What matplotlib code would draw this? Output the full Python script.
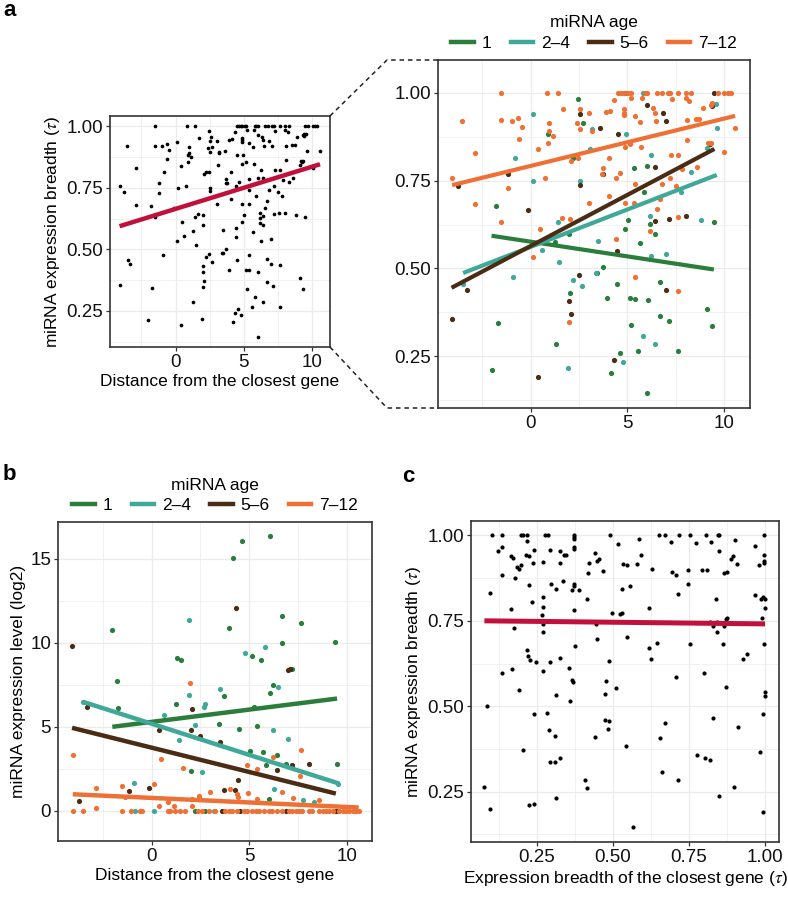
import numpy as np
import matplotlib
matplotlib.use("Agg")
import matplotlib.pyplot as plt
from matplotlib.lines import Line2D

plt.rcParams.update({
    "font.family": ["Liberation Sans", "DejaVu Sans"],
    "mathtext.fontset": "stix",
    "font.size": 12,
})

GREEN, TEAL, BROWN, ORANGE = "#2a7d3b", "#3fa898", "#4a2c14", "#ee7034"
RED = "#c2103c"
GRID, EDGE = "#ebebeb", "#333333"
AGE_LABELS = ["1", "2–4", "5–6", "7–12"]
AGE_COLORS = [GREEN, TEAL, BROWN, ORANGE]

# ---- panel a: distance vs expression breadth (tau), by miRNA age ----
A_AGE1 = [(2.45, 0.983), (2.69, 0.915), (0.88, 0.882), (2.19, 0.813), (-1.78, 0.677),
          (1.98, 0.597), (1.24, 0.576), (-1.71, 0.344), (-2.03, 0.211), (1.31, 0.285),
          (2.02, 0.431), (4.88, 1.0), (5.36, 0.786), (6.00, 0.791), (5.86, 0.717),
          (5.02, 0.638), (4.88, 0.612), (6.17, 0.627), (6.40, 0.597), (5.66, 0.572),
          (9.47, 0.631), (3.71, 0.503), (3.45, 0.487), (4.47, 0.457), (3.93, 0.416),
          (5.14, 0.416), (5.40, 0.414), (6.05, 0.409), (6.66, 0.462), (6.66, 0.366),
          (7.16, 0.350), (5.19, 0.338), (9.10, 0.385), (9.36, 0.337), (5.57, 0.264),
          (4.59, 0.259), (4.17, 0.203), (7.64, 0.264), (6.03, 0.145)]
A_AGE2 = [(0.10, 0.938), (3.19, 0.896), (3.07, 0.841), (-0.83, 0.815), (0.14, 0.750),
          (2.55, 0.748), (1.43, 0.633), (0.60, 0.553), (1.48, 0.518), (-0.90, 0.477),
          (2.19, 0.468), (2.64, 0.450), (1.90, 0.217), (-3.50, 0.455), (3.36, 0.487),
          (4.91, 0.883), (6.22, 0.822), (6.17, 0.649), (6.22, 0.535), (6.98, 0.541),
          (7.76, 0.717), (8.28, 0.775), (8.81, 0.638), (9.10, 0.843), (9.62, 0.900),
          (9.57, 0.969), (5.78, 0.307), (6.43, 0.285), (4.79, 0.234), (3.50, 0.578),
          (5.78, 1.0)]
A_AGE3 = [(-3.76, 0.734), (-1.19, 0.769), (-0.14, 0.666), (2.55, 0.737), (2.52, 0.940),
          (2.47, 0.481), (1.98, 0.406), (2.07, 0.371), (-3.31, 0.439), (-4.10, 0.357),
          (0.36, 0.191), (3.60, 0.900), (4.50, 0.883), (6.00, 0.965), (6.83, 0.941),
          (7.02, 0.919), (3.74, 0.769), (6.40, 0.788), (6.40, 0.634), (7.17, 0.642),
          (8.03, 0.648), (4.45, 0.549), (6.98, 0.440), (4.33, 0.240), (9.28, 0.855),
          (9.40, 0.962), (9.50, 1.0)]
A_AGE4 = [(-1.52, 1.0), (0.86, 1.0), (1.40, 1.0), (-3.57, 0.919), (-1.53, 0.921),
          (-0.98, 0.919), (-0.66, 0.929), (-0.45, 0.903), (-0.62, 0.867), (-2.88, 0.829),
          (0.95, 0.915), (0.95, 0.891), (1.16, 0.877), (0.88, 0.856), (0.38, 0.840),
          (1.69, 0.954), (2.57, 0.955), (3.02, 0.941), (2.40, 0.913), (2.55, 0.896),
          (3.16, 0.891), (2.45, 0.815), (2.07, 0.805), (-4.07, 0.758), (0.76, 0.757),
          (-1.19, 0.729), (-2.88, 0.682), (3.00, 0.685), (-1.53, 0.631), (0.47, 0.611),
          (1.64, 0.644), (2.02, 0.640), (0.09, 0.532), (1.98, 0.347),
          (4.50, 1.0), (4.67, 1.0), (4.80, 1.0), (5.05, 1.0), (5.17, 1.0), (5.91, 1.0),
          (6.00, 1.0), (6.55, 1.0), (6.78, 1.0), (7.09, 1.0), (7.21, 1.0), (7.64, 1.0),
          (8.03, 1.0), (8.29, 1.0), (9.67, 1.0), (10.02, 1.0), (10.19, 1.0), (10.36, 1.0),
          (4.33, 0.978), (5.19, 0.986), (5.74, 0.986), (3.90, 0.946), (4.10, 0.948),
          (4.84, 0.953), (4.84, 0.943), (4.84, 0.936), (5.40, 0.934), (5.66, 0.917),
          (6.34, 0.957), (6.43, 0.943), (6.47, 0.919), (7.29, 0.981), (8.03, 0.984),
          (8.19, 0.976), (8.07, 0.921), (8.53, 0.924), (8.71, 0.924), (8.90, 0.957),
          (9.33, 0.965), (9.40, 0.970), (10.57, 0.900), (9.19, 0.858), (9.31, 0.858),
          (10.02, 0.831), (4.88, 0.845), (5.14, 0.853), (5.71, 0.845), (4.07, 0.815),
          (3.72, 0.786), (3.67, 0.769), (4.41, 0.758), (4.62, 0.772), (7.26, 0.824),
          (7.64, 0.822), (8.10, 0.864), (7.84, 0.782), (8.59, 0.788), (5.40, 0.741),
          (6.81, 0.741), (7.21, 0.758), (6.69, 0.698), (6.52, 0.670), (7.52, 0.734),
          (4.07, 0.706), (4.88, 0.685), (5.36, 0.685), (6.17, 0.606), (4.40, 0.585),
          (7.60, 0.646), (5.40, 0.476), (7.64, 0.435)]
# fitted lines: (x_start, x_end), (y_start, y_end)
A_FIT_X = [(-2.03, 9.47), (-3.50, 9.62), (-4.10, 9.50), (-4.07, 10.57)]
A_FIT_Y = [(0.593, 0.497), (0.487, 0.766), (0.445, 0.840), (0.737, 0.934)]
A_ALL_FIT_X = (-4.10, 10.57)
A_ALL_FIT_Y = (0.594, 0.846)

# ---- panel b: distance vs expression level (log2), by miRNA age ----
B_AGE1 = [(-2.01, 10.78), (3.95, 10.86), (6.67, 11.57), (7.67, 11.18), (6.67, 10.01),
          (9.38, 10.07), (1.32, 9.10), (1.49, 8.96), (5.16, 9.20), (5.59, 8.96),
          (-1.77, 7.75), (7.17, 8.43), (6.19, 7.48), (6.07, 7.02), (3.72, 6.84),
          (-1.70, 6.11), (1.27, 6.35), (5.23, 6.19), (3.45, 5.16), (4.48, 4.86),
          (5.40, 5.02), (5.06, 3.57), (5.68, 3.51), (6.43, 3.32), (4.63, 16.03),
          (6.06, 16.33), (4.19, 15.04), (2.01, 2.36), (6.00, 0.73), (6.86, 2.81),
          (9.49, 2.81), (2.20, 0.0), (2.71, 0.0), (5.85, 2.72)]
B_AGE2 = [(1.92, 11.38), (5.81, 9.73), (4.80, 9.40), (6.45, 7.34), (1.90, 6.92),
          (3.52, 7.22), (2.66, 6.19), (2.73, 6.35), (0.62, 5.69), (2.20, 5.10),
          (1.42, 4.21), (6.21, 4.84), (7.00, 4.27), (-3.52, 6.49), (2.57, 2.32),
          (-0.89, 1.66), (6.26, 1.33), (7.77, 0.67), (8.32, 0.53), (-0.86, 0.0),
          (0.14, 0.0), (3.17, 0.0), (9.55, 1.60)]
B_AGE3 = [(-4.07, 9.79), (4.34, 12.09), (7.00, 8.37), (7.08, 8.41), (2.09, 6.03),
          (2.01, 4.84), (0.36, 4.84), (2.47, 4.47), (3.52, 4.07), (-3.31, 6.19),
          (-1.17, 1.21), (-0.12, 1.39), (-3.74, 0.59), (3.69, 1.27), (4.29, 1.23),
          (4.44, 1.86), (6.43, 2.42), (7.20, 2.71), (8.06, 2.77), (3.60, 0.0),
          (4.55, 0.0), (6.86, 0.0), (9.43, 0.0)]
B_AGE4 = [(1.97, 7.59), (7.65, 3.65), (6.21, 3.18), (-4.03, 3.34), (0.48, 3.08),
          (1.63, 2.55), (-2.83, 1.39), (-1.49, 1.49), (0.10, 1.58), (-1.34, 0.83),
          (0.86, 0.53), (3.00, 1.13), (4.03, 1.33), (4.36, 1.03), (4.43, 0.83),
          (4.89, 2.75), (5.40, 2.51), (2.45, 0.89), (2.06, 0.73), (4.94, 1.07),
          (5.40, 0.73), (6.69, 1.13), (7.24, 0.77), (8.58, 0.67), (7.57, 2.09),
          (0.38, 0.30), (2.06, 0.30), (-2.86, 0.20), (1.15, 0.30),
          (-4.03, 0.0), (-3.52, 0.0), (-1.54, 0.0), (-1.03, 0.0), (-0.60, 0.0),
          (-0.48, 0.0), (0.86, 0.0), (0.94, 0.0), (1.20, 0.0), (1.46, 0.0), (1.72, 0.0),
          (2.40, 0.0), (2.57, 0.0), (2.95, 0.0), (3.26, 0.0), (3.77, 0.0), (3.95, 0.0),
          (4.12, 0.0), (4.37, 0.0), (4.72, 0.0), (4.89, 0.0), (5.15, 0.0), (5.32, 0.0),
          (5.52, 0.0), (5.75, 0.0), (6.00, 0.0), (6.17, 0.0), (6.43, 0.0), (6.69, 0.0),
          (7.03, 0.0), (7.20, 0.0), (7.38, 0.0), (7.55, 0.0), (7.72, 0.0), (8.06, 0.0),
          (8.23, 0.0), (8.58, 0.0), (8.75, 0.0), (8.92, 0.0), (9.09, 0.0), (9.26, 0.0),
          (9.61, 0.0), (9.78, 0.0), (9.95, 0.0), (10.12, 0.0), (10.29, 0.0), (10.46, 0.0),
          (10.60, 0.0)]
B_FIT_X = [(-2.01, 9.49), (-3.52, 9.61), (-4.07, 9.43), (-4.03, 10.60)]
B_FIT_Y = [(5.00, 6.68), (6.49, 1.62), (4.94, 1.03), (0.99, 0.20)]

# ---- panel c: breadth of closest gene vs miRNA breadth ----
C_POINTS = [(0.103, 1.0), (0.137, 1.0), (0.198, 1.0), (0.204, 1.0), (0.217, 1.0),
            (0.219, 0.983), (0.277, 1.0), (0.286, 1.0), (0.371, 1.0), (0.371, 0.994),
            (0.371, 0.988), (0.371, 0.966), (0.371, 0.961), (0.491, 1.0), (0.123, 0.955),
            (0.136, 0.965), (0.167, 0.939), (0.173, 0.934), (0.186, 0.907), (0.193, 0.902),
            (0.197, 0.914), (0.214, 0.942), (0.225, 0.939), (0.241, 0.958), (0.238, 0.919),
            (0.270, 0.922), (0.294, 0.958), (0.327, 0.954), (0.338, 0.944), (0.345, 0.944),
            (0.327, 0.920), (0.137, 0.883), (0.179, 0.876), (0.096, 0.832), (0.226, 0.856),
            (0.233, 0.805), (0.296, 0.857), (0.314, 0.842), (0.336, 0.866), (0.371, 0.859),
            (0.373, 0.852), (0.365, 0.839), (0.390, 0.839), (0.414, 0.813), (0.418, 0.891),
            (0.423, 0.920), (0.440, 0.948), (0.447, 0.925), (0.453, 0.930), (0.467, 0.895),
            (0.516, 0.976), (0.533, 0.917), (0.546, 0.914), (0.530, 0.844), (0.557, 0.851),
            (0.270, 0.820), (0.270, 0.790), (0.266, 0.768), (0.164, 0.786), (0.371, 0.782),
            (0.498, 0.774), (0.524, 0.769), (0.530, 0.774), (0.175, 0.729), (0.272, 0.740),
            (0.270, 0.716), (0.444, 0.740), (0.447, 0.697), (0.546, 0.703), (0.376, 0.677),
            (0.219, 0.666), (0.220, 0.646), (0.228, 0.634), (0.247, 0.629), (0.294, 0.630),
            (0.325, 0.640), (0.269, 0.604), (0.357, 0.612), (0.365, 0.576), (0.368, 0.571),
            (0.135, 0.596), (0.168, 0.610), (0.486, 0.633), (0.478, 0.575), (0.510, 0.553),
            (0.474, 0.535), (0.193, 0.547), (0.312, 0.532), (0.360, 0.516), (0.086, 0.502),
            (0.241, 0.477), (0.283, 0.480), (0.291, 0.430), (0.311, 0.413), (0.474, 0.461),
            (0.488, 0.456), (0.483, 0.434), (0.440, 0.409), (0.544, 0.383), (0.206, 0.371),
            (0.292, 0.336), (0.311, 0.338), (0.325, 0.350), (0.407, 0.285), (0.414, 0.260),
            (0.078, 0.263), (0.314, 0.233), (0.224, 0.211), (0.241, 0.215), (0.096, 0.200),
            (0.587, 0.989), (0.652, 1.0), (0.671, 1.0), (0.690, 0.980), (0.718, 1.0),
            (0.753, 1.0), (0.773, 0.979), (0.806, 1.0), (0.822, 0.981), (0.844, 1.0),
            (0.850, 1.0), (0.903, 0.985), (0.997, 1.0), (0.968, 0.968), (0.594, 0.943),
            (0.578, 0.917), (0.629, 0.903), (0.695, 0.893), (0.709, 0.883), (0.746, 0.900),
            (0.794, 0.900), (0.811, 0.899), (0.849, 0.954), (0.866, 0.891), (0.874, 0.894),
            (0.888, 0.930), (0.896, 0.940), (0.907, 0.917), (0.979, 0.914), (0.996, 0.942),
            (0.998, 0.925), (0.998, 0.920), (0.746, 0.858), (0.713, 0.829), (0.620, 0.788),
            (0.839, 0.813), (0.968, 0.825), (0.986, 0.813), (0.995, 0.820), (1.0, 0.813),
            (1.0, 0.787), (0.819, 0.747), (0.830, 0.734), (0.841, 0.747), (0.843, 0.717),
            (0.865, 0.734), (0.872, 0.754), (0.876, 0.757), (0.990, 0.757), (0.618, 0.670),
            (0.624, 0.639), (0.646, 0.685), (0.755, 0.681), (0.861, 0.683), (0.927, 0.639),
            (0.942, 0.654), (0.997, 0.683), (0.707, 0.586), (0.800, 0.597), (0.872, 0.556),
            (0.999, 0.542), (0.999, 0.531), (0.995, 0.476), (0.672, 0.451), (0.655, 0.406),
            (0.828, 0.467), (0.910, 0.439), (0.775, 0.357), (0.804, 0.349), (0.819, 0.344),
            (0.984, 0.365), (0.663, 0.307), (0.714, 0.284), (0.898, 0.265), (0.850, 0.239),
            (0.993, 0.191), (0.565, 0.146)]
C_FIT_X = (0.078, 1.0)
C_FIT_Y = (0.750, 0.741)

TAU_TICKS = [0.25, 0.50, 0.75, 1.00]
TAU_LABELS = ["0.25", "0.50", "0.75", "1.00"]
DIST_TICKS = [0, 5, 10]


def style(ax, xlim, ylim, xmaj, xmin, ymaj, ymin):
    ax.set_xlim(*xlim)
    ax.set_ylim(*ylim)
    ax.set_xticks(xmaj)
    ax.set_xticks(xmin, minor=True)
    ax.set_yticks(ymaj)
    ax.set_yticks(ymin, minor=True)
    ax.grid(which="major", color=GRID, lw=0.9)
    ax.grid(which="minor", color=GRID, lw=0.5)
    ax.set_axisbelow(True)
    ax.tick_params(which="minor", length=0)
    ax.tick_params(which="major", length=3, width=0.9, color=EDGE, labelsize=13.5,
                   labelcolor="#111111", pad=2)
    for s in ax.spines.values():
        s.set_color(EDGE)
        s.set_linewidth(1.2)


def age_legend(ax):
    handles = [Line2D([], [], color=c, lw=3.2) for c in AGE_COLORS]
    ax.legend(handles, AGE_LABELS, title="miRNA age", ncol=4, loc="lower center",
              bbox_to_anchor=(0.5, 1.012), frameon=False, handlelength=1.3,
              columnspacing=1.1, handletextpad=0.45, fontsize=12.5, title_fontsize=12.5,
              borderaxespad=0.2, borderpad=0.1, labelspacing=0.3)


W, H = 788, 897
fig = plt.figure(figsize=(W / 100, H / 100), dpi=100)
POS_AL = [110 / W, 1 - 347 / H, 220 / W, 231 / H]
POS_AR = [438 / W, 1 - 408 / H, 312 / W, 348 / H]
POS_B = [58 / W, 1 - 841 / H, 314 / W, 319 / H]
POS_C = [471 / W, 1 - 842 / H, 308 / W, 321 / H]

a_groups = [np.array(g) for g in (A_AGE1, A_AGE2, A_AGE3, A_AGE4)]
a_all = np.vstack(a_groups)

# a, left: all miRNAs
ax = fig.add_axes(POS_AL)
style(ax, (-4.8, 11.3), (0.103, 1.042), DIST_TICKS, [-2.5, 2.5, 7.5],
      TAU_TICKS, [0.125, 0.375, 0.625, 0.875])
ax.set_yticklabels(TAU_LABELS)
ax.scatter(a_all[:, 0], a_all[:, 1], s=7, color="black", lw=0, zorder=2)
ax.plot(A_ALL_FIT_X, A_ALL_FIT_Y, color=RED, lw=3.2, solid_capstyle="butt", zorder=3)
ax.set_xlabel("Distance from the closest gene", fontsize=12.5, labelpad=2)
ax.set_ylabel(r"miRNA expression breadth ($\tau$)", fontsize=12.5, labelpad=3)

# a, right: split by miRNA age
ax = fig.add_axes(POS_AR)
style(ax, (-4.8, 11.34), (0.103, 1.093), DIST_TICKS, [-2.5, 2.5, 7.5],
      TAU_TICKS, [0.125, 0.375, 0.625, 0.875])
ax.set_yticklabels(TAU_LABELS)
for g, c in zip(a_groups, AGE_COLORS):
    ax.scatter(g[:, 0], g[:, 1], s=14, color=c, lw=0, zorder=2)
for fx, fy, c in zip(A_FIT_X, A_FIT_Y, AGE_COLORS):
    ax.plot(fx, fy, color=c, lw=3.0, solid_capstyle="butt", zorder=3)
age_legend(ax)

# dashed "zoom" connectors between the two a panels
xl = POS_AL[0] + POS_AL[2]
xr = POS_AR[0]
xk = 387 / W
for yl, yr in ((POS_AL[1] + POS_AL[3], POS_AR[1] + POS_AR[3]), (POS_AL[1], POS_AR[1])):
    fig.add_artist(Line2D([xl, xk, xr], [yl, yr, yr], transform=fig.transFigure,
                          color="#222222", lw=1.1, ls=(0, (3, 2.5))))

# b: expression level
ax = fig.add_axes(POS_B)
style(ax, (-4.79, 11.28), (-1.79, 17.18), DIST_TICKS, [-2.5, 2.5, 7.5],
      [0, 5, 10, 15], [2.5, 7.5, 12.5])
for g, c in zip((B_AGE1, B_AGE2, B_AGE3, B_AGE4), AGE_COLORS):
    g = np.array(g)
    ax.scatter(g[:, 0], g[:, 1], s=14, color=c, lw=0, zorder=2)
for fx, fy, c in zip(B_FIT_X, B_FIT_Y, AGE_COLORS):
    ax.plot(fx, fy, color=c, lw=3.2, solid_capstyle="butt", zorder=3)
ax.set_xlabel("Distance from the closest gene", fontsize=12.5, labelpad=2)
ax.set_ylabel("miRNA expression level (log2)", fontsize=12.5, labelpad=3)
age_legend(ax)

# c: breadth of closest gene
c_pts = np.array(C_POINTS)
ax = fig.add_axes(POS_C)
style(ax, (0.034, 1.046), (0.103, 1.042), TAU_TICKS, [0.125, 0.375, 0.625, 0.875],
      TAU_TICKS, [0.125, 0.375, 0.625, 0.875])
ax.set_xticklabels(TAU_LABELS)
ax.set_yticklabels(TAU_LABELS)
ax.scatter(c_pts[:, 0], c_pts[:, 1], s=9, color="black", lw=0, zorder=2)
ax.plot(C_FIT_X, C_FIT_Y, color=RED, lw=3.6, solid_capstyle="butt", zorder=3)
ax.set_xlabel(r"Expression breadth of the closest gene ($\tau$)", fontsize=12.5, labelpad=2)
ax.set_ylabel(r"miRNA expression breadth ($\tau$)", fontsize=12.5, labelpad=3)

for lbl, x, y in (("a", 3, 10), ("b", 3, 474), ("c", 402, 476)):
    fig.text(x / W, 1 - y / H, lbl, fontsize=16, fontweight="bold", va="center", ha="left")

fig.savefig("out.png", dpi=100)
